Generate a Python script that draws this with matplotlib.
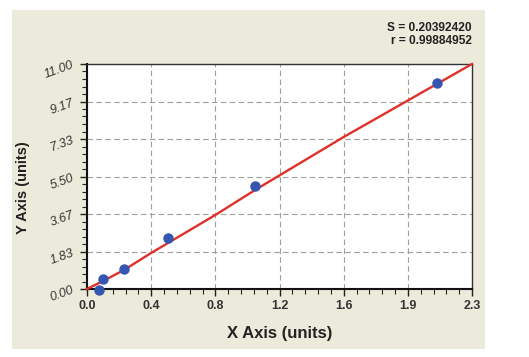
import matplotlib

matplotlib.use("Agg")
import matplotlib.pyplot as plt  # noqa: E402
from matplotlib.patches import Rectangle  # noqa: E402
from matplotlib.ticker import AutoMinorLocator, FixedLocator  # noqa: E402

plt.rcParams["font.family"] = ["Liberation Sans", "DejaVu Sans"]

# measured standards
x_points = [0.072, 0.096, 0.221, 0.484, 1.004, 2.091]
y_points = [-0.04, 0.47, 0.96, 2.49, 5.04, 10.07]

# fitted curve
x_curve = [0.0, 0.096, 0.221, 0.383, 0.767, 1.004, 1.533, 2.3]
y_curve = [0.0, 0.39, 0.93, 1.76, 3.62, 4.84, 7.43, 11.0]

x_ticks = [0.0, 2.3 / 6, 2.3 * 2 / 6, 2.3 * 3 / 6, 2.3 * 4 / 6, 2.3 * 5 / 6, 2.3]
x_tick_labels = ["0.0", "0.4", "0.8", "1.2", "1.6", "1.9", "2.3"]
y_ticks = [0.0, 11 / 6, 11 * 2 / 6, 11 * 3 / 6, 11 * 4 / 6, 11 * 5 / 6, 11.0]
y_tick_labels = ["0.00", "1.83", "3.67", "5.50", "7.33", "9.17", "11.00"]

stats_text = "S = 0.20392420\nr = 0.99884952"

W, H = 529, 357
fig = plt.figure(figsize=(W / 100, H / 100), dpi=100)
fig.patch.set_facecolor("white")

# beige panel behind the chart
fig.patches.append(Rectangle((12 / W, 1 - 349 / H), (485 - 12) / W, (349 - 10) / H,
                             transform=fig.transFigure, facecolor="#ECEADB",
                             edgecolor="none", zorder=-5))

ax = fig.add_axes([87 / W, 1 - 289 / H, (472 - 87) / W, (289 - 64) / H])
ax.set_zorder(2)
ax.set_facecolor("white")
ax.set_xlim(0, 2.3)
ax.set_ylim(0, 11)

ax.xaxis.set_major_locator(FixedLocator(x_ticks))
ax.yaxis.set_major_locator(FixedLocator(y_ticks))
ax.xaxis.set_minor_locator(AutoMinorLocator(5))
ax.yaxis.set_minor_locator(AutoMinorLocator(5))
ax.set_xticklabels(x_tick_labels, fontsize=9, fontweight="bold", color="#333333")
ax.set_yticklabels(y_tick_labels, fontsize=9, style="italic", color="#333333",
                   rotation=20)
ax.tick_params(which="major", direction="out", length=5, width=1, color="#222222", pad=3)
ax.tick_params(which="minor", direction="out", length=3.5, width=0.8, color="#222222")

ax.grid(True, which="major", linestyle=(0, (5, 3)), color="#a0a096", linewidth=0.8)
ax.set_axisbelow(True)

for side in ["left", "bottom"]:
    ax.spines[side].set_linewidth(1.5)
    ax.spines[side].set_color("#111111")
for side in ["top", "right"]:
    ax.spines[side].set_linewidth(1.0)
    ax.spines[side].set_color("#333333")

ax.plot(x_curve, y_curve, color="#E0302A", linewidth=1.7, zorder=3, clip_on=False)
ax.plot(x_points, y_points, "o", color="#3556B0", markersize=6.5, zorder=4, clip_on=False)

ax.set_xlabel("X Axis (units)", fontsize=12, fontweight="bold", color="#222222")
ax.xaxis.set_label_coords(0.5, -0.165)
ax.set_ylabel("Y Axis (units)", fontsize=10.5, fontweight="bold", color="#222222")
ax.yaxis.set_label_coords((30 - 87) / (472 - 87), 0.45)

fig.text(472 / W, 1 - 22 / H, stats_text, ha="right", va="top", fontsize=8.6,
         fontweight="bold", color="#222222", linespacing=1.15)

fig.savefig("out.png", dpi=100, facecolor=fig.get_facecolor())
plt.close(fig)
